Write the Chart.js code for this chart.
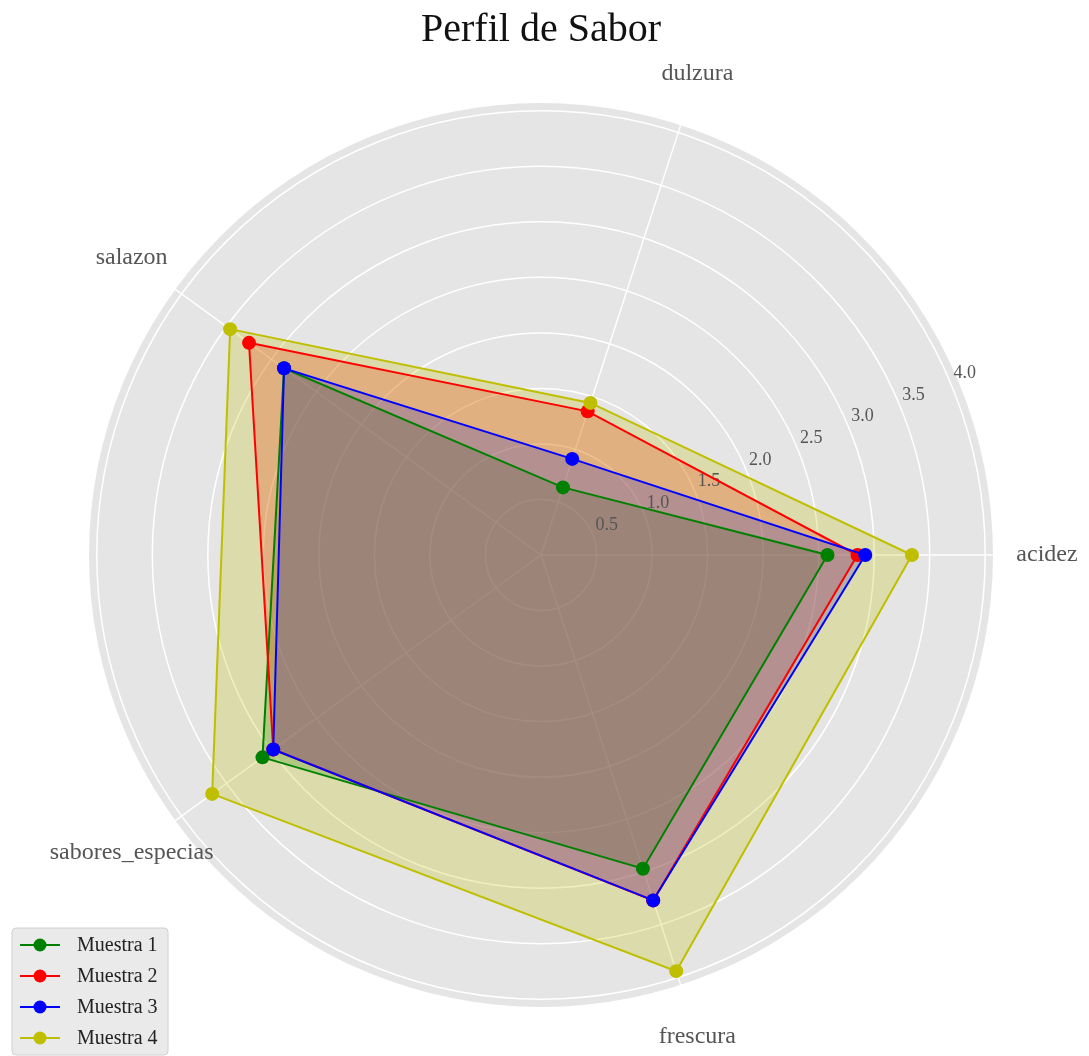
<!DOCTYPE html>
<html>
<head>
<meta charset="utf-8">
<script src="https://cdn.jsdelivr.net/npm/chart.js@4.4.1/dist/chart.umd.min.js"></script>
<style>
  html, body { margin: 0; padding: 0; background: #fff; }
  #wrap { width: 1089px; height: 1056px; }
</style>
</head>
<body>
<div id="wrap"><canvas id="perfil"></canvas></div>
<script>
// categories in Chart.js order (clockwise, starting at the right)
const categories = ["acidez", "frescura", "sabores_especias", "salazon", "dulzura"];

const muestra1 = [2.58, 2.97, 3.10, 2.86, 0.64];
const muestra2 = [2.85, 3.27, 2.98, 3.25, 1.36];
const muestra3 = [2.92, 3.27, 2.98, 2.86, 0.91];
const muestra4 = [3.34, 3.94, 3.66, 3.46, 1.44];

const seriesNames = ["Muestra 1", "Muestra 2", "Muestra 3", "Muestra 4"];
const seriesData = [muestra1, muestra2, muestra3, muestra4];
const seriesColors = ["#008000", "#ff0000", "#0000ff", "#bfbf00"];
const seriesFills = ["rgba(0,128,0,0.25)", "rgba(255,0,0,0.25)", "rgba(0,0,255,0.25)", "rgba(191,191,0,0.25)"];

const tickValues = [0.5, 1.0, 1.5, 2.0, 2.5, 3.0, 3.5, 4.0];
const rMax = 4.07;

Chart.defaults.font.family = "'Liberation Serif', 'DejaVu Serif', serif";

// radial tick labels, placed like matplotlib (about 23 degrees above the first axis)
const tickLabelPlugin = {
    id: "tickLabels",
    beforeDatasetsDraw(chart) {
        const scale = chart.scales.r;
        const ctx = chart.ctx;
        const ang = -23 * Math.PI / 180;
        ctx.save();
        ctx.font = "18px 'Liberation Serif'";
        ctx.fillStyle = "#555";
        ctx.textAlign = "center";
        ctx.textBaseline = "middle";
        tickValues.forEach(v => {
            const d = scale.getDistanceFromCenterForValue(v) + 16;
            ctx.fillText(v.toFixed(1), scale.xCenter + Math.cos(ang) * d, scale.yCenter + Math.sin(ang) * d - 2);
        });
        ctx.restore();
    }
};

// category labels outside the disk
const pointLabelPlugin = {
    id: "catLabels",
    afterDraw(chart) {
        const scale = chart.scales.r;
        const ctx = chart.ctx;
        ctx.save();
        ctx.font = "24px 'Liberation Serif'";
        ctx.fillStyle = "#555";
        ctx.textAlign = "center";
        ctx.textBaseline = "middle";
        categories.forEach((c, i) => {
            const p = scale.getPointPosition(i, scale.drawingArea + 54);
            ctx.fillText(c, p.x, p.y);
        });
        ctx.restore();
    }
};

// legend box in the lower left corner
const legendPlugin = {
    id: "cornerLegend",
    afterDraw(chart) {
        const ctx = chart.ctx;
        ctx.save();
        ctx.beginPath();
        ctx.roundRect(12, 928, 156, 127, 4);
        ctx.fillStyle = "rgba(229,229,229,0.8)";
        ctx.fill();
        ctx.strokeStyle = "#d0d0d0";
        ctx.lineWidth = 1;
        ctx.stroke();
        ctx.font = "20px 'Liberation Serif'";
        ctx.textBaseline = "middle";
        ctx.textAlign = "left";
        seriesNames.forEach((name, i) => {
            const y = 945 + i * 31;
            ctx.strokeStyle = seriesColors[i];
            ctx.lineWidth = 2;
            ctx.beginPath();
            ctx.moveTo(20, y);
            ctx.lineTo(60, y);
            ctx.stroke();
            ctx.fillStyle = seriesColors[i];
            ctx.beginPath();
            ctx.arc(40, y, 6.5, 0, Math.PI * 2);
            ctx.fill();
            ctx.fillStyle = "#222";
            ctx.fillText(name, 77, y + 1);
        });
        ctx.restore();
    }
};

const datasets = seriesNames.map((name, i) => ({
    label: name,
    data: seriesData[i],
    borderColor: seriesColors[i],
    backgroundColor: seriesFills[i],
    borderWidth: 2,
    pointRadius: 7,
    pointHoverRadius: 7,
    pointBackgroundColor: seriesColors[i],
    pointBorderColor: seriesColors[i],
    pointBorderWidth: 0,
    fill: "origin",
    order: seriesNames.length - i
}));

new Chart(document.getElementById("perfil").getContext("2d"), {
    type: "radar",
    data: {
        labels: categories,
        datasets: datasets
    },
    options: {
        responsive: true,
        maintainAspectRatio: false,
        animation: false,
        devicePixelRatio: 1,
        layout: {
            padding: { top: 0, left: 0, right: 7, bottom: 49 }
        },
        elements: {
            line: { tension: 0 }
        },
        scales: {
            r: {
                min: 0,
                max: rMax,
                startAngle: 90,
                backgroundColor: "#e5e5e5",
                grid: { circular: true, color: "#ffffff", lineWidth: 1.5 },
                angleLines: { color: "#ffffff", lineWidth: 1.5 },
                ticks: { display: false, stepSize: 0.5 },
                pointLabels: { display: false },
                afterBuildTicks(scale) {
                    scale.ticks = scale.ticks.filter(t => t.value <= 4.0001);
                }
            }
        },
        plugins: {
            filler: { drawTime: "beforeDatasetsDraw" },
            legend: { display: false },
            tooltip: { enabled: false },
            title: {
                display: true,
                text: "Perfil de Sabor",
                color: "#111",
                font: { size: 40, weight: "normal" },
                padding: { top: 6, bottom: 49 }
            }
        }
    },
    plugins: [tickLabelPlugin, pointLabelPlugin, legendPlugin]
});
</script>
</body>
</html>
